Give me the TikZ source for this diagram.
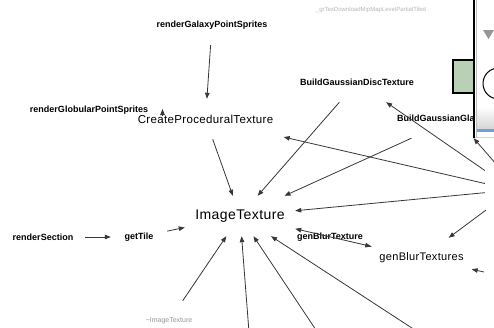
\documentclass[tikz,border=0pt]{standalone}
\usepackage{fontspec}
\setmainfont{Liberation Sans}
\newfontfamily\spacedfont{Liberation Sans}[LetterSpace=3]
\usetikzlibrary{arrows.meta}
\definecolor{edgeGray}{RGB}{55, 55, 55}
\definecolor{faintGray}{RGB}{150, 150, 150}
\definecolor{boxGreen}{RGB}{186, 208, 180}
\definecolor{barGray}{RGB}{214, 214, 214}
\definecolor{barBlue}{RGB}{110, 160, 225}

\begin{document}
\begin{tikzpicture}[x=1pt, y=-1pt,
    fn/.style={rectangle, inner sep=0pt, minimum height=40pt, font=\fontsize{9}{11}\selectfont\bfseries},
    fnmid/.style={fn, font=\spacedfont\fontsize{11.5}{14}\selectfont},
    fnbig/.style={fn, font=\spacedfont\fontsize{14}{17}\selectfont},
    edge/.style={draw=edgeGray, line width=0.8pt, -{Triangle[length=6pt,width=4.5pt]}}]
      \useasboundingbox (0,0) rectangle (494,327);
      \clip (0,0) rectangle (494,327);
      \fill[white] (0,0) rectangle (494,327);

      % callers and callees
      \node[fn, minimum width=130pt] (galaxy) at (212,25) {renderGalaxyPointSprites};
      \node[fn, minimum width=136pt] (globular) at (89,110) {renderGlobularPointSprites};
      \node[fnmid, minimum width=156pt] (proc) at (205.5,119) {CreateProceduralTexture};
      \node[fn, minimum width=135pt] (disc) at (357,82) {BuildGaussianDiscTexture};
      \node[fn, minimum width=140pt] (glare) at (456,118) {BuildGaussianGlareTexture};
      \node[fnbig, minimum width=110pt] (image) at (240,216) {ImageTexture};
      \node[fn, minimum width=84pt] (section) at (43,237) {renderSection};
      \node[fn, minimum width=56pt] (tile) at (139,237) {getTile};
      \node[fn, minimum width=70pt] (blurone) at (330,237) {genBlurTexture};
      \node[fnmid, minimum width=100pt, font=\spacedfont\fontsize{11}{13}\selectfont] (blurs) at (421.5,258) {genBlurTextures};
      \node[fn, minimum width=60pt, text=faintGray, font=\fontsize{7}{8}\selectfont] (dtor) at (169,321) {\textasciitilde ImageTexture};
      \node[fn, text=faintGray!70, font=\fontsize{6}{7}\selectfont] (mipmap) at (371,10) {\_grTexDownloadMipMapLevelPartialTiled};

      % nodes that lie outside the view
      \node[rectangle, inner sep=0pt, minimum width=56pt, minimum height=40pt] (offeast) at (513,190) {};
      \coordinate (glaresrc) at (510,180);
      \coordinate (blursrc) at (484,272);
      \coordinate (srcA) at (250,345);
      \coordinate (srcB) at (326,345);
      \coordinate (srcC) at (438,345);
      \coordinate (globstub) at (162.5,115);
      \coordinate (globtip) at (162.5,109);

      \draw[edge] (galaxy) -- (proc);
      \draw[edge] (globstub) -- (globtip);
      \draw[edge] (proc) -- (image);
      \draw[edge] (disc) -- (image);
      \draw[edge] (glare) -- (image);
      \draw[edge] (offeast) -- (proc);
      \draw[edge] (offeast) -- (image);
      \draw[edge] (offeast) -- (disc);
      \draw[edge] (offeast) -- (blurs);
      \draw[edge] (glaresrc) -- (glare);
      \draw[edge] (section) -- (tile);
      \draw[edge] (tile) -- (image);
      \draw[edge] (blurs) -- (image);
      \draw[edge] (blurone) -- (blurs);
      \draw[edge] (blursrc) -- (blurs);
      \draw[edge] (dtor) -- (image);
      \draw[edge] (srcA) -- (image);
      \draw[edge] (srcB) -- (image);
      \draw[edge] (srcC) -- (image);

      % window lying over the top right corner
      \draw[line width=1.5pt, fill=boxGreen] (453,60) rectangle (480,93);
      \fill[white] (474,-2) rectangle (496,137);
      \fill[faintGray] (483,30) -- (494,30) -- (488.5,39) -- cycle;
      \draw[line width=1pt] (498.5,83.5) circle (15.5);
      \shade[top color=white, bottom color=barGray] (476,107) rectangle (496,128);
      \fill[barBlue] (476,129) rectangle (496,132);
      \draw[barGray, line width=0.6pt] (474,137) -- (496,137);
      \draw[faintGray!60, line width=0.6pt] (476.5,-2) -- (476.5,137);
      \draw[line width=1.3pt] (474,-2) -- (474,137.5);
    \end{tikzpicture}
\end{document}
